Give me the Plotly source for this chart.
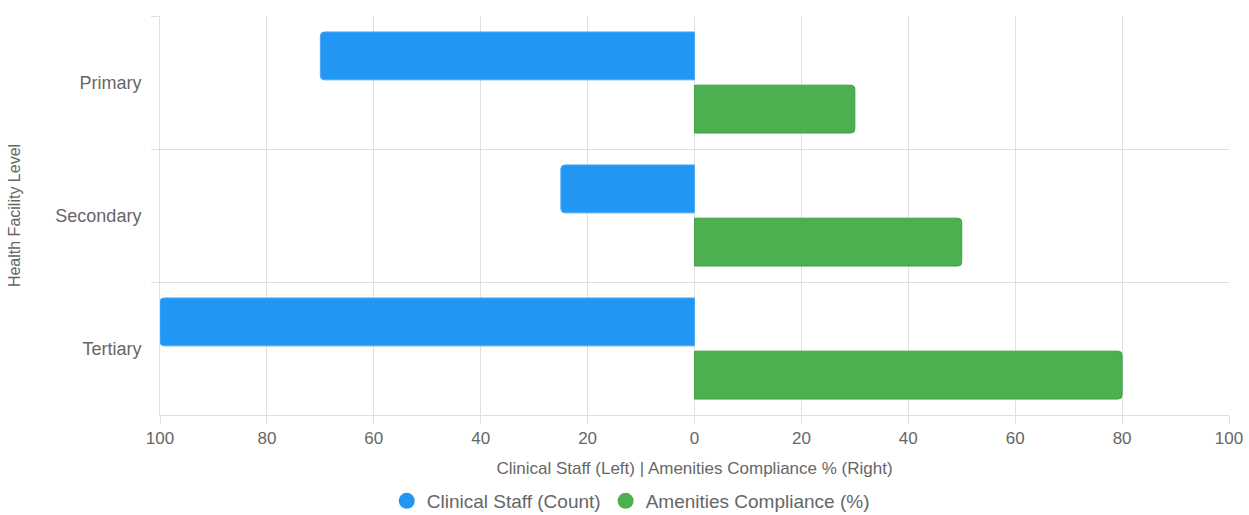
import plotly.graph_objects as go

categories = ["Primary", "Secondary", "Tertiary"]
clinical_staff = [70, 25, 100]
amenities_pct = [30, 50, 80]
tick_values = [-100, -80, -60, -40, -20, 0, 20, 40, 60, 80, 100]
tick_labels = ["100", "80", "60", "40", "20", "0", "20", "40", "60", "80", "100"]

BLUE = "#2196F3"
GREEN = "#4CAF50"
GRID = "#e0e0e0"
TXT = "#666666"
FONT = "Liberation Sans, Arial, sans-serif"

fig = go.Figure()
fig.add_trace(go.Bar(
    y=categories, x=[-v for v in clinical_staff], orientation="h",
    name="Clinical Staff (Count)", showlegend=False,
    marker=dict(color=BLUE, line=dict(color="#4aa8f5", width=1), cornerradius=4),
    customdata=clinical_staff, hovertemplate="%{y}: %{customdata}<extra></extra>",
))
fig.add_trace(go.Bar(
    y=categories, x=amenities_pct, orientation="h",
    name="Amenities Compliance (%)", showlegend=False,
    marker=dict(color=GREEN, line=dict(color="#43a047", width=1), cornerradius=4),
))
# legend entries with circular symbols
fig.add_trace(go.Scatter(x=[None], y=[None], mode="markers", name="Clinical Staff (Count)",
                         marker=dict(symbol="circle", size=18, color=BLUE)))
fig.add_trace(go.Scatter(x=[None], y=[None], mode="markers", name="Amenities Compliance (%)",
                         marker=dict(symbol="circle", size=18, color=GREEN)))

fig.update_layout(
    width=1249, height=515,
    margin=dict(l=160, r=20, t=16, b=100, autoexpand=False),
    paper_bgcolor="white", plot_bgcolor="white",
    font=dict(family=FONT, color=TXT, size=15),
    barmode="group", bargap=0.2, bargroupgap=0.1,
    legend=dict(orientation="h", x=0.505, xanchor="center", xref="container",
                y=14/515, yanchor="middle", yref="container",
                font=dict(size=19, color=TXT), itemsizing="trace"),
    xaxis=dict(range=[-100, 100], tickvals=tick_values, ticktext=tick_labels,
               automargin=False,
               showgrid=True, gridcolor=GRID, gridwidth=1, zeroline=False,
               showline=True, linecolor=GRID, ticks="outside", ticklen=8, tickcolor=GRID,
               tickfont=dict(size=17, color=TXT),
               title=dict(text="Clinical Staff (Left) | Amenities Compliance % (Right)",
                          font=dict(size=17, color=TXT), standoff=14)),
    yaxis=dict(type="category", categoryorder="array", categoryarray=categories,
               autorange="reversed", tickson="boundaries", automargin=False,
               showgrid=True, gridcolor=GRID, gridwidth=1, zeroline=False,
               showline=True, linecolor=GRID, ticks="outside", ticklen=8, tickcolor=GRID,
               tickfont=dict(size=18, color=TXT), ticklabelstandoff=14,
               title=dict(text="Health Facility Level", font=dict(size=16, color=TXT), standoff=30)),
)

fig.write_html("out.html")
